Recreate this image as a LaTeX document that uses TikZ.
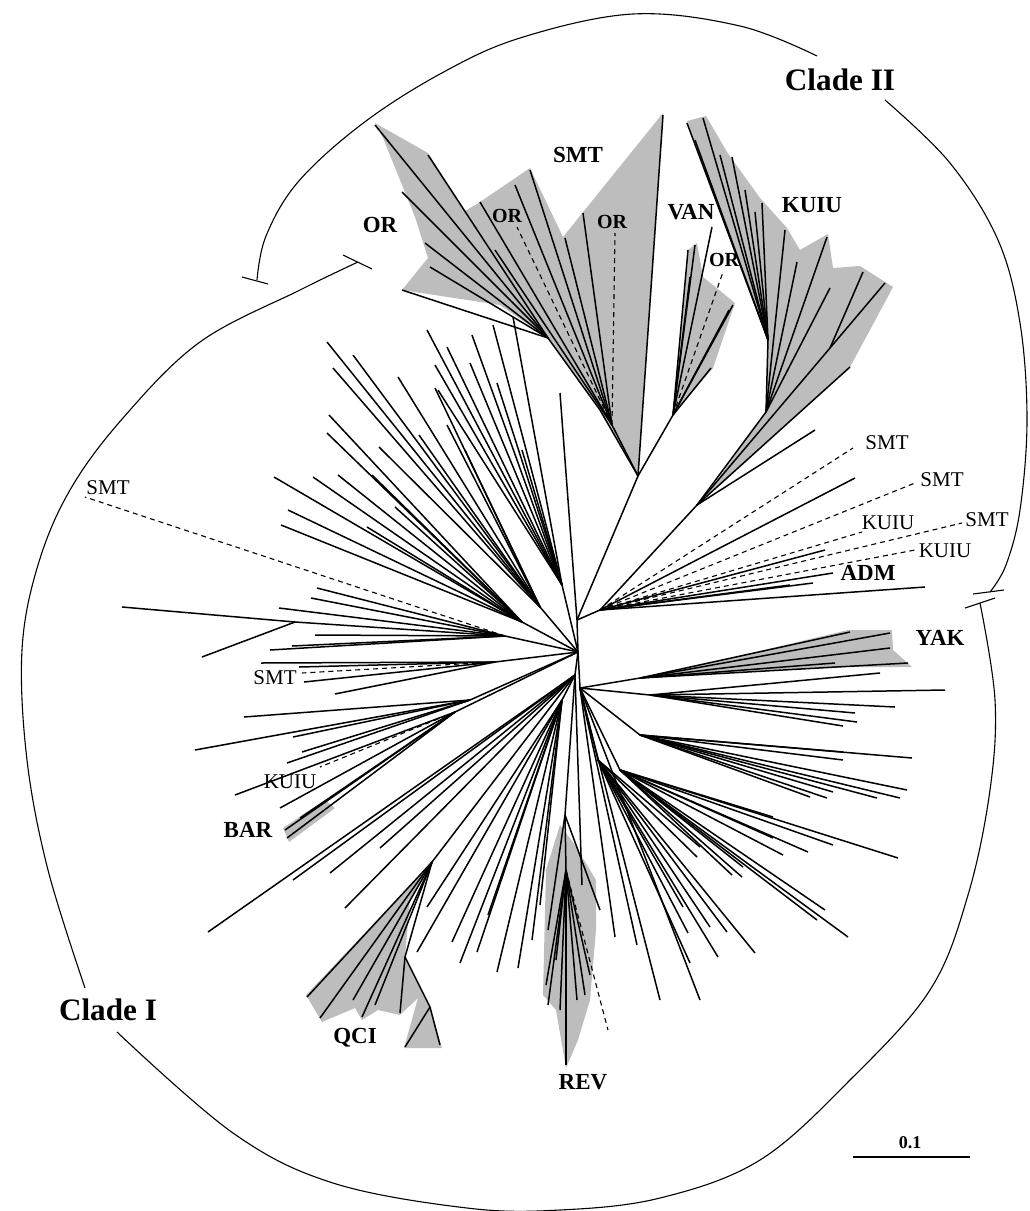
\documentclass[tikz,border=0pt]{standalone}
\usepackage{fontspec}
\setmainfont{Liberation Serif}
\tikzset{
  branch/.style={line width=0.75pt},
  dashbranch/.style={line width=0.55pt,dash pattern=on 2.5pt off 2pt},
  cladeshade/.style={fill=black!26,draw=none},
  cladearc/.style={line width=0.55pt},
  grouplab/.style={font=\bfseries\fontsize{11.5}{12}\selectfont,inner sep=0pt},
  taglab/.style={font=\fontsize{10.5}{11}\selectfont,inner sep=0pt},
  orlab/.style={font=\bfseries\fontsize{10}{11}\selectfont,inner sep=0pt},
  cladelab/.style={font=\bfseries\fontsize{15.6}{16}\selectfont,inner sep=0pt},
}
% fan of tips from one hub
\newcommand\tipfan[4][branch]{%
  \foreach \tx/\ty [count=\ti] in {#4}{\draw[#1] (#2) -- (\tx,\ty) coordinate (#3\ti);}}

\begin{document}
\begin{tikzpicture}[x=0.5pt,y=-0.5pt]
\useasboundingbox (0,0) rectangle (1029,1211);

% hubs
\coordinate (c0) at (578,652);
\coordinate (cup) at (577,620);
\coordinate (cdn) at (575,675);
\coordinate (IIbase) at (638,476);
\coordinate (orA) at (548,338);
\coordinate (orB) at (600,410);
\coordinate (smtM) at (612,425);
\coordinate (vanB) at (673,415);
\coordinate (admH) at (600,610);
\coordinate (kB) at (697,505);
\coordinate (k1) at (766,412);
\coordinate (k2) at (768,340);
\coordinate (k3) at (830,348);
\coordinate (ulA) at (562,585);
\coordinate (ulB) at (540,607);
\coordinate (ulC) at (522,622);
\coordinate (lH) at (505,636);
\coordinate (l1) at (295,622);
\coordinate (llA) at (495,662);
\coordinate (llB) at (470,700);
\coordinate (barH) at (455,712);
\coordinate (qH) at (432,862);
\coordinate (qB) at (405,957);
\coordinate (qC) at (430,1007);
\coordinate (midH) at (562,700);
\coordinate (revH) at (565,815);
\coordinate (revB) at (566,870);
\coordinate (rH) at (580,688);
\coordinate (yH) at (640,678);
\coordinate (rf1) at (650,695);
\coordinate (rf2) at (640,735);
\coordinate (rf3) at (620,770);
\coordinate (rf4) at (598,760);

% shaded groups
\fill[cladeshade] (375,123) -- (428,153) -- (465,211) -- (480,202) -- (530,168) -- (563,237) -- (663,113)
  -- (638,476) -- (600,410) -- (548,338) -- (500,305) -- (402,290) -- (428,258) -- (415,217) -- (383,138) -- cycle;
\fill[cladeshade] (688,250) -- (697,243) -- (703,277) -- (735,303) -- (713,368) -- (673,415) -- cycle;
\fill[cladeshade] (687,121) -- (706,116) -- (727,152) -- (760,198) -- (787,228) -- (800,250) -- (828,234)
  -- (833,268) -- (860,266) -- (893,287) -- (870,330) -- (850,367) -- (703,500) -- (766,412) -- (768,340) -- cycle;
\fill[cladeshade] (655,676) -- (848,630) -- (892,630) -- (893,650) -- (912,667) -- (836,667) -- cycle;
\fill[cladeshade] (560,825) -- (546,870) -- (543,995) -- (556,1010) -- (566,1068) -- (578,1040) -- (590,1000)
  -- (596,930) -- (596,880) -- (575,845) -- cycle;
\fill[cladeshade] (432,862) -- (306,995) -- (322,1022) -- (355,1008) -- (362,1020) -- (378,1010) -- (400,1015)
  -- (418,998) -- (404,1048) -- (442,1048) -- (430,1007) -- (405,957) -- (410,900) -- cycle;
\fill[cladeshade] (283,828) -- (289,842) -- (335,808) -- (325,800) -- cycle;

% inner edges
\draw[branch] (c0) -- (cup) -- (IIbase) -- (orB) -- (orA);
\draw[branch] (IIbase) -- (smtM);
\draw[branch] (IIbase) -- (vanB);
\draw[branch] (cup) -- (admH) -- (kB) -- (k1) -- (k2);
\draw[branch] (kB) -- (k3);
\draw[branch] (c0) -- (ulA);
\draw[branch] (c0) -- (ulB);
\draw[branch] (c0) -- (ulC);
\draw[branch] (c0) -- (lH) -- (l1);
\draw[branch] (c0) -- (llA);
\draw[branch] (c0) -- (llB);
\draw[branch] (c0) -- (barH);
\draw[branch] (c0) -- (cdn) -- (qH) -- (qB) -- (qC);
\draw[branch] (cdn) -- (midH);
\draw[branch] (cdn) -- (revH) -- (revB);
\draw[branch] (c0) -- (rH) -- (yH);
\draw[branch] (rH) -- (rf1);
\draw[branch] (rH) -- (rf2);
\draw[branch] (rH) -- (rf3);
\draw[branch] (rH) -- (rf4);

% tips
\tipfan{ulA}{ua}{427/330,447/347,472/335,493/325,513/317,470/363,497/383,435/365,438/390,522/450}
\tipfan{ulB}{ub}{327/342,333/368,353/355,398/377,435/388,419/435,447/425,465/450,379/447}
\tipfan{ulC}{uc}{329/415,327/433,274/477,313/477,338/475,372/475,288/510,281/525,367/527,395/507}
\tipfan{lH}{lh}{317/588,311/598,279/608,315/635,292/646,270/650}
\tipfan{l1}{lo}{122/607,202/657}
\tipfan[dashbranch]{lH}{lhd}{85/497}
\tipfan{llA}{la}{261/663,299/667,304/682,335/694}
\tipfan[dashbranch]{llA}{lad}{302/673}
\tipfan{llB}{lb}{244/717,195/750,293/737,302/752,287/763}
\tipfan{barH}{ba}{235/795,280/808,285/830,287/838,300/818}
\tipfan[dashbranch]{barH}{bad}{320/767}
\tipfan{cdn}{cd}{208/932,293/880,330/873,380/848,345/908,582/885}
\tipfan{qH}{qa}{307/997,320/1018,353/1000,362/1017,375/1005}
\tipfan{qB}{qb}{400/1013}
\tipfan{qC}{qc}{440/1045,405/1047}
\tipfan{midH}{md}{417/952,427/907,452/942,460/963,477/952,497/972,518/968,488/915,532/940,540/905}
\tipfan{revH}{ra}{600/910,548/930}
\tipfan{revB}{rb}{546/985,548/1005,556/960,560/1010,566/1065,577/1000,585/995,590/975}
\tipfan[dashbranch]{revB}{rbd}{608/1030}
\tipfan{yH}{ya}{850/632,890/633,890/648,908/663,835/663}
\tipfan{rf1}{ro}{945/690,895/707,855/713,857/722,843/726,880/673}
\tipfan{rf2}{rt}{843/752,843/760,912/758,907/790,900/798,877/798,833/792,827/798,810/797}
\tipfan{rf3}{rr}{773/817,833/845,808/852,898/858,783/855,773/838,743/867,742/877,732/875,825/910,817/920,848/937}
\tipfan{rf4}{rq}{700/847,697/857,755/953,718/957,727/932,710/927,688/933,690/963,683/907}
\tipfan{rH}{rh}{615/937,637/945,660/1000,700/1000}
\tipfan{admH}{ad}{855/478,825/550,833/573,813/583,925/587,790/585}
\tipfan[dashbranch]{admH}{add}{853/448,915/483,862/532,962/523,915/550}
\tipfan{kB}{kb}{850/367,815/430}
\tipfan{k3}{kt}{885/283,863/272}
\tipfan{k1}{ko}{785/230,797/262,827/237,830/288}
\tipfan{k2}{kw}{687/123,703/118,695/140,720/155,732/157,745/190,755/212,762/203}
\tipfan{vanB}{va}{688/250,695/245,712/227,690/277,733/305,729/310,711/368}
\tipfan[dashbranch]{vanB}{vad}{723/272}
\tipfan{smtM}{sm}{480/202,515/185,530/170,495/250,565/238,583/213}
\tipfan[dashbranch]{smtM}{smd}{517/227,615/233}
\tipfan{orA}{oa}{375/125,428/155,402/192,425/243,430/267,402/290}
\tipfan{IIbase}{ii}{663/115}
\tipfan{cup}{cu}{560/393}

% clade arcs
\draw[cladearc] plot[smooth,tension=0.6] coordinates {(257,280) (266,236) (298,182) (362,124) (440,74) (520,38) (633,14) (740,26) (817,56)};
\draw[cladearc] plot[smooth,tension=0.6] coordinates {(885,100) (950,163) (998,240) (1020,323) (1027,420) (1020,510) (1006,565) (990,592)};
\draw[cladearc] (242,277) -- (268,284);
\draw[cladearc] (973,594) -- (1004,590);
\draw[cladearc] plot[smooth,tension=0.6] coordinates {(358,262) (300,290) (200,342) (123,418) (70,490) (38,565) (22,650) (27,760) (48,870) (85,988)};
\draw[cladearc] plot[smooth,tension=0.6] coordinates {(117,1032) (233,1133) (333,1183) (467,1208) (560,1210) (660,1198) (760,1160) (850,1080) (930,990) (968,895) (990,790) (995,700) (980,603)};
\draw[cladearc] (343,255) -- (372,269);
\draw[cladearc] (965,608) -- (995,598);

% scale bar
\coordinate (sb1) at (853,1157);
\coordinate (sb2) at (970,1157);
\draw[cladearc] (sb1) -- (sb2);
\node[font=\bfseries\fontsize{9}{10}\selectfont,inner sep=0pt] (sblab) at (910,1143) {0.1};

% labels
\node[grouplab] (labOR) at (380,225) {OR};
\node[grouplab] (labSMT) at (578,155) {SMT};
\node[orlab] (labORa) at (507,216) {OR};
\node[orlab] (labORb) at (612,222) {OR};
\node[grouplab] (labVAN) at (691,212) {VAN};
\node[orlab] (labORc) at (724,260) {OR};
\node[grouplab] (labKUIU) at (812,205) {KUIU};
\node[taglab] (tagSMTa) at (887,443) {SMT};
\node[taglab] (tagSMTb) at (942,480) {SMT};
\node[taglab] (tagKUIUa) at (888,523) {KUIU};
\node[taglab] (tagSMTc) at (987,520) {SMT};
\node[taglab] (tagKUIUb) at (945,551) {KUIU};
\node[grouplab] (labADM) at (868,573) {ADM};
\node[grouplab] (labYAK) at (940,638) {YAK};
\node[grouplab] (labREV) at (583,1082) {REV};
\node[grouplab] (labQCI) at (355,1038) {QCI};
\node[grouplab] (labBAR) at (248,830) {BAR};
\node[taglab] (tagKUIUc) at (290,782) {KUIU};
\node[taglab] (tagSMTd) at (275,678) {SMT};
\node[taglab] (tagSMTe) at (108,488) {SMT};
\node[cladelab] (labCI) at (108,1010) {Clade I};
\node[cladelab] (labCII) at (840,80) {Clade II};
\end{tikzpicture}
\end{document}
